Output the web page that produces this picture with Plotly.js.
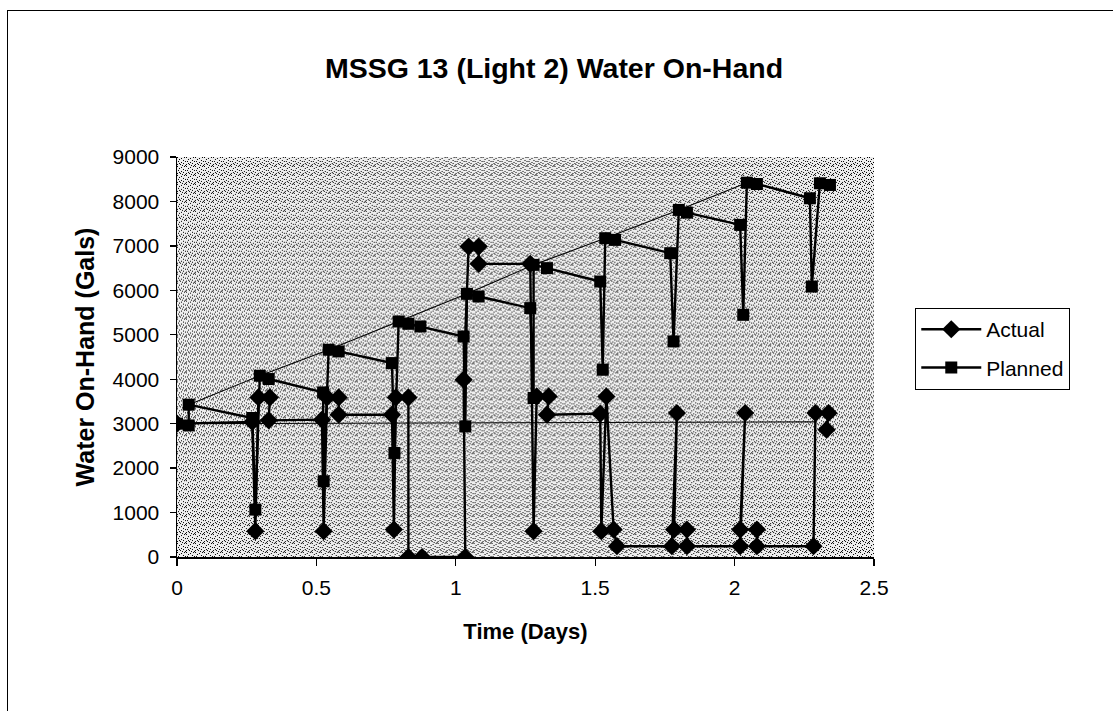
<!DOCTYPE html>
<html>
<head>
<meta charset="utf-8">
<script src="https://cdn.plot.ly/plotly-3.0.1.min.js"></script>
<style>
  html, body { margin: 0; padding: 0; background: #ffffff; }
  #chart { position: absolute; left: 0; top: 0; width: 1113px; height: 711px; }
  #frame { position: absolute; left: 7px; top: 10px; width: 1120px; height: 720px;
           border-left: 1.5px solid #000; border-top: 1.5px solid #000; pointer-events: none; }
</style>
</head>
<body>
<div id="chart"></div>
<div id="frame"></div>
<script>
// ---- data ----
const actualTime = [0, 0.27, 0.281, 0.292, 0.333, 0.329, 0.52, 0.526, 0.538, 0.58, 0.58, 0.771, 0.778, 0.785, 0.83, 0.83, 0.879, 1.034, 1.028, 1.046, 1.082, 1.082, 1.267, 1.279, 1.29, 1.333, 1.327, 1.518, 1.522, 1.54, 1.566, 1.578, 1.775, 1.793, 1.783, 1.829, 1.829, 2.02, 2.038, 2.02, 2.08, 2.08, 2.283, 2.29, 2.337, 2.33];
const actualGals = [3000, 3040, 580, 3591, 3591, 3075, 3090, 580, 3591, 3591, 3202, 3202, 618, 3591, 3591, 0, 0, 0, 3989, 6985, 6985, 6596, 6596, 580, 3614, 3614, 3202, 3225, 580, 3614, 618, 243, 243, 3240, 618, 618, 243, 243, 3240, 618, 618, 243, 243, 3240, 3240, 2865];

const plannedTime = [0, 0.042, 0.042, 0.27, 0.281, 0.297, 0.329, 0.524, 0.526, 0.544, 0.58, 0.771, 0.78, 0.795, 0.83, 0.873, 1.028, 1.034, 1.04, 1.082, 1.267, 1.279, 1.279, 1.327, 1.518, 1.527, 1.536, 1.571, 1.769, 1.781, 1.8, 1.829, 2.02, 2.031, 2.044, 2.08, 2.27, 2.277, 2.306, 2.342];
const plannedGals = [3000, 2960, 3427, 3128, 1067, 4079, 4004, 3703, 1704, 4663, 4625, 4363, 2341, 5299, 5247, 5187, 4962, 2939, 5921, 5861, 5600, 3578, 6573, 6499, 6198, 4213, 7173, 7135, 6836, 4850, 7809, 7748, 7472, 5449, 8422, 8393, 8071, 6085, 8409, 8371];

// thin guide lines (upper envelope and base level)
const capTime = [0.042, 0.297, 0.544, 0.795, 1.04, 1.279, 1.536, 1.8, 2.044];
const capGals = [3427, 4079, 4663, 5299, 5921, 6573, 7173, 7809, 8422];
const baseTime = [0, 2.29];
const baseGals = [3000, 3040];

const xTicks = [0, 0.5, 1, 1.5, 2, 2.5];
const yTicks = [0, 1000, 2000, 3000, 4000, 5000, 6000, 7000, 8000, 9000];

const FONT = '"Liberation Sans", Arial, sans-serif';

// stippled plot-area fill (fixed dot tile, purely decorative)
const dotTile = [[0,0],[4,1],[7,0],[2,2],[6,3],[1,4],[8,4],[4,5],[3,7],[6,6],[0,7],[8,8],[5,8],[2,6]];
const dots = dotTile.map(d => `<rect x="${d[0]}" y="${d[1]}" width="1" height="1" fill="#000"/>`).join('');
const stippleSvg = `<svg xmlns="http://www.w3.org/2000/svg" width="698" height="401" viewBox="0 0 698 401">` +
  `<defs><pattern id="p" width="9" height="9" patternUnits="userSpaceOnUse">` +
  `<rect width="9" height="9" fill="#eeeeee"/>${dots}</pattern></defs>` +
  `<rect width="698" height="401" fill="url(#p)"/></svg>`;
const stippleUri = 'data:image/svg+xml;charset=utf-8,' + encodeURIComponent(stippleSvg);

const traces = [
  { x: capTime, y: capGals, mode: 'lines', line: { color: '#000', width: 1.1 },
    showlegend: false, hoverinfo: 'skip' },
  { x: baseTime, y: baseGals, mode: 'lines', line: { color: '#000', width: 1.1 },
    showlegend: false, hoverinfo: 'skip' },
  { x: actualTime, y: actualGals, name: 'Actual', mode: 'lines+markers',
    legendgroup: 'a',
    line: { color: '#000', width: 2.4 },
    marker: { symbol: 'diamond', size: 14, color: '#000' } },
  { x: plannedTime, y: plannedGals, name: 'Planned', mode: 'lines+markers',
    legendgroup: 'p',
    line: { color: '#000', width: 2.4 },
    marker: { symbol: 'square', size: 12, color: '#000' } }
];

const layout = {
  width: 1113, height: 711,
  margin: { l: 176.5, r: 239, t: 157, b: 153.5 },
  paper_bgcolor: '#ffffff',
  plot_bgcolor: '#c8c8c8',
  font: { family: FONT, color: '#000', size: 21 },
  images: [{
    source: stippleUri, xref: 'x', yref: 'y',
    x: 0, y: 9000, sizex: 2.5, sizey: 9000,
    xanchor: 'left', yanchor: 'top', sizing: 'stretch', layer: 'below'
  }],
  title: {
    text: '<b>MSSG 13 (Light 2) Water On-Hand</b>',
    font: { family: FONT, size: 28.5, color: '#000' },
    x: 554 / 1113, xanchor: 'center', xref: 'container',
    y: 1 - 68 / 711, yanchor: 'middle', yref: 'container'
  },
  xaxis: {
    range: [0, 2.5], tickvals: xTicks, ticktext: xTicks.map(String),
    showgrid: false, zeroline: false,
    showline: true, linecolor: '#000', linewidth: 1.5,
    ticks: 'outside', ticklen: 7, tickwidth: 1.3, tickcolor: '#000',
    ticklabelstandoff: 4,
    tickfont: { family: FONT, size: 21, color: '#000' },
    title: { text: '<b>Time (Days)</b>', font: { family: FONT, size: 22, color: '#000' }, standoff: 26 }
  },
  yaxis: {
    range: [0, 9000], tickvals: yTicks, ticktext: yTicks.map(String),
    showgrid: false, zeroline: false,
    showline: true, linecolor: '#000', linewidth: 1.5,
    ticks: 'outside', ticklen: 6, tickwidth: 1.3, tickcolor: '#000',
    ticklabelstandoff: 6,
    tickfont: { family: FONT, size: 21, color: '#000' },
    title: { text: '<b>Water On-Hand (Gals)</b>', font: { family: FONT, size: 25, color: '#000' }, standoff: 11 }
  },
  showlegend: true,
  legend: {
    x: (915 - 176.5) / 697.5, xanchor: 'left',
    y: (557.5 - 308) / 400.5, yanchor: 'top',
    bgcolor: '#ffffff', bordercolor: '#000', borderwidth: 1.3,
    font: { family: FONT, size: 21, color: '#000' },
    traceorder: 'grouped', tracegroupgap: 8,
    itemwidth: 60
  }
};

Plotly.newPlot('chart', traces, layout, { staticPlot: true, displayModeBar: false });
</script>
</body>
</html>
